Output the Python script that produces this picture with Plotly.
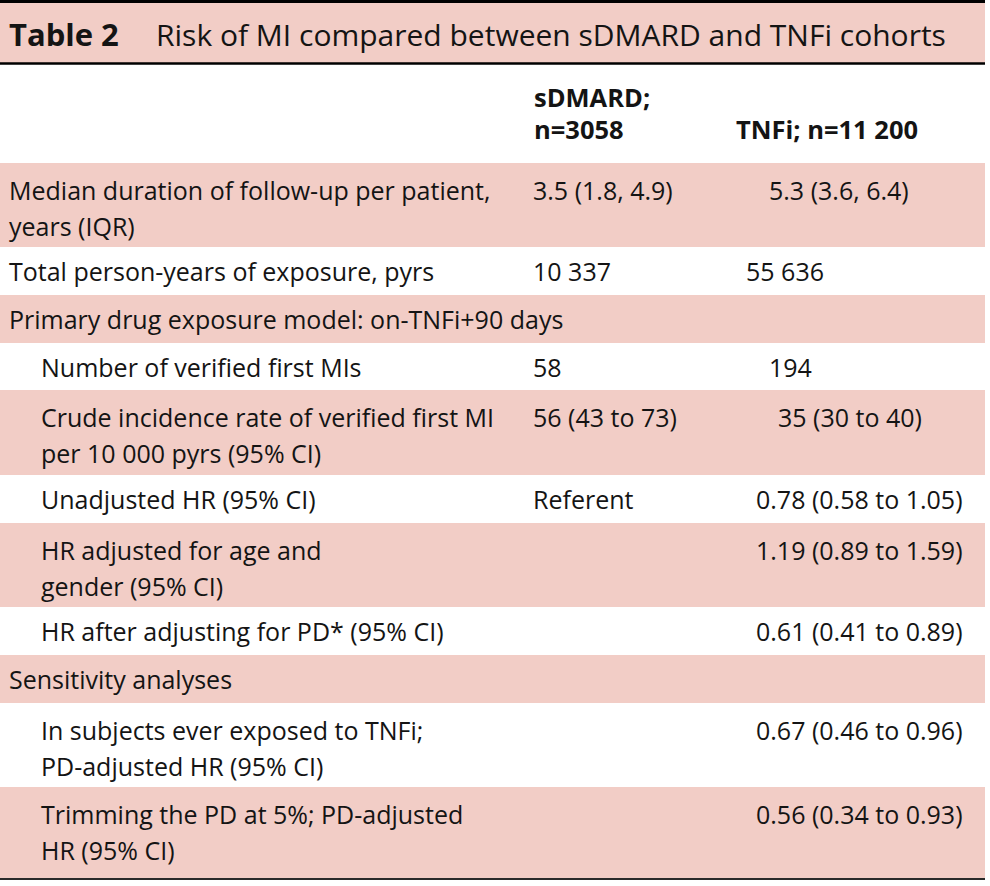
import plotly.graph_objects as go

# ---------------- data ----------------
TITLE_NUM = "Table 2"
TITLE_TEXT = "Risk of MI compared between sDMARD and TNFi cohorts"
COL_HEADERS = ["sDMARD;\nn=3058", "TNFi; n=11 200"]
ROW_LABELS = [
    "Median duration of follow-up per patient,\nyears (IQR)",
    "Total person-years of exposure, pyrs",
    "Primary drug exposure model: on-TNFi+90 days",
    "Number of verified first MIs",
    "Crude incidence rate of verified first MI\nper 10 000 pyrs (95% CI)",
    "Unadjusted HR (95% CI)",
    "HR adjusted for age and\ngender (95% CI)",
    "HR after adjusting for PD* (95% CI)",
    "Sensitivity analyses",
    "In subjects ever exposed to TNFi;\nPD-adjusted HR (95% CI)",
    "Trimming the PD at 5%; PD-adjusted\nHR (95% CI)",
]
SDMARD = ["3.5 (1.8, 4.9)", "10 337", "", "58", "56 (43 to 73)", "Referent",
          "", "", "", "", ""]
TNFI = ["5.3 (3.6, 6.4)", "55 636", "", "194", "35 (30 to 40)",
        "0.78 (0.58 to 1.05)", "1.19 (0.89 to 1.59)", "0.61 (0.41 to 0.89)",
        "", "0.67 (0.46 to 0.96)", "0.56 (0.34 to 0.93)"]

# ---------------- layout / style ----------------
W, H = 990, 886
TABLE_RIGHT = 985
ROW_EDGES = [163, 247, 295, 343, 390, 475, 523, 607, 655, 703, 787, 878]
ROW_INDENT = [0, 0, 0, 1, 1, 1, 1, 1, 0, 1, 1]
ROW_SHADED = [True, False, True, False, True, False, True, False, True, False, True]
TNFI_X = [768, 745, 0, 768, 777, 755, 755, 755, 0, 755, 755]
X_LABEL = [8, 40]
X_SD = 532
X_HDR = [533, 735]
PINK = "#F2CDC6"
INK = "#141414"
FONT = "Open Sans"
FS = 25
FS_HDR = 25.5
FS_TITLE = 30
LINE_GAP = 36

fig = go.Figure()
shapes = []
annotations = []

def txt(x, y, s, size=FS, bold=False):
    annotations.append(dict(
        x=x, y=y, xref="x", yref="y", text=("<b>%s</b>" % s) if bold else s,
        showarrow=False, xanchor="left", yanchor="middle",
        font=dict(family=FONT, size=size, color=INK), borderpad=0))

# title band
shapes.append(dict(type="rect", x0=0, x1=TABLE_RIGHT, y0=2, y1=63,
                   fillcolor=PINK, line=dict(width=0), layer="below"))
shapes.append(dict(type="line", x0=0, x1=TABLE_RIGHT, y0=1.5, y1=1.5,
                   line=dict(color="#000", width=3)))
shapes.append(dict(type="line", x0=0, x1=TABLE_RIGHT, y0=63.5, y1=63.5,
                   line=dict(color="#000", width=2.5)))
txt(8, 34, TITLE_NUM, size=31, bold=True)
txt(155, 34, TITLE_TEXT, size=FS_TITLE)

# header
hdr_lines = COL_HEADERS[0].split("\n")
txt(X_HDR[0], 97, hdr_lines[0], size=FS_HDR, bold=True)
txt(X_HDR[0], 97 + 32, hdr_lines[1], size=FS_HDR, bold=True)
txt(X_HDR[1], 97 + 32, COL_HEADERS[1], size=FS_HDR, bold=True)

# body rows
for i, lab in enumerate(ROW_LABELS):
    top, bot = ROW_EDGES[i], ROW_EDGES[i + 1]
    if ROW_SHADED[i]:
        shapes.append(dict(type="rect", x0=0, x1=TABLE_RIGHT, y0=top, y1=bot,
                           fillcolor=PINK, line=dict(width=0), layer="below"))
    lines = lab.split("\n")
    if len(lines) == 1:
        y1 = (top + bot) / 2
    else:
        y1 = top + 27
    for k, ln in enumerate(lines):
        txt(X_LABEL[ROW_INDENT[i]], y1 + k * LINE_GAP, ln)
    if SDMARD[i]:
        txt(X_SD, y1, SDMARD[i])
    if TNFI[i]:
        txt(TNFI_X[i], y1, TNFI[i])

shapes.append(dict(type="line", x0=0, x1=TABLE_RIGHT, y0=ROW_EDGES[-1] + 1,
                   y1=ROW_EDGES[-1] + 1, line=dict(color="#2a2a2a", width=2)))

fig.add_trace(go.Scatter(x=[0, W], y=[0, H], mode="markers",
                         marker=dict(opacity=0), hoverinfo="skip",
                         showlegend=False))
fig.update_layout(
    width=W, height=H, margin=dict(l=0, r=0, t=0, b=0),
    paper_bgcolor="white", plot_bgcolor="white",
    xaxis=dict(range=[0, W], visible=False, fixedrange=True),
    yaxis=dict(range=[H, 0], visible=False, fixedrange=True),
    shapes=shapes, annotations=annotations, showlegend=False,
)
fig.write_html("out.html", config={"displayModeBar": False},
               post_script="document.body.style.margin='0';document.body.style.overflow='hidden';")
